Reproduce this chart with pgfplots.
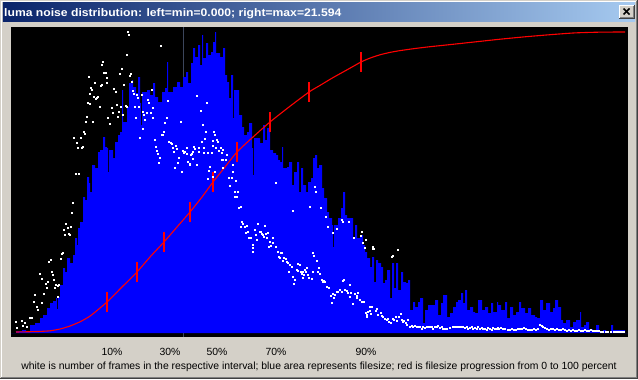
\documentclass[border=0pt]{standalone}
\usepackage{pgfplots}
\pgfplotsset{compat=1.18}
\usepackage{fontspec}
\setmainfont{Liberation Sans}
\definecolor{winbg}{RGB}{212,208,200}
\definecolor{tbA}{RGB}{10,36,106}
\definecolor{tbB}{RGB}{166,202,240}
\definecolor{vline}{RGB}{60,70,92}
\definecolor{bblue}{RGB}{0,0,255}
\definecolor{dkgray}{RGB}{64,64,64}
\definecolor{mdgray}{RGB}{128,128,128}

\begin{document}
\begin{tikzpicture}
\begin{scope}[shift={(-11bp,337bp)},x=1bp,y=-1bp]
  \fill[winbg] (0,0) rectangle (638,379);
  \draw[white,line width=1bp] (1.5,377) -- (1.5,1.5) -- (636,1.5);
  \draw[dkgray,line width=1bp] (0,378.5) -- (637.5,378.5) -- (637.5,0);
  \draw[mdgray,line width=1bp] (1,377.5) -- (636.5,377.5) -- (636.5,1);
  \shade[left color=tbA, right color=tbB] (3,3) rectangle (635,21);
  \node[anchor=base west, text=white, inner sep=0pt] at (4,16)
    {\scalebox{1.11}[1.0]{\fontsize{11}{13}\selectfont\bfseries luma noise distribution: left=min=0.000; right=max=21.594}};
  % close button
  \fill[winbg] (619,5) rectangle (635,19);
  \draw[white,line width=1bp] (619.5,18.5) -- (619.5,5.5) -- (634.5,5.5);
  \draw[dkgray,line width=1bp] (619,18.5) -- (634.5,18.5) -- (634.5,5);
  \draw[mdgray,line width=1bp] (620,17.5) -- (633.5,17.5) -- (633.5,6);
  \draw[black,line width=1.6bp] (623.5,8.5) -- (629.5,14.5);
  \draw[black,line width=1.6bp] (629.5,8.5) -- (623.5,14.5);
  % plot area
  \fill[black] (11,27) rectangle (628,337);
  % percent labels
  \foreach \xx/\tt in {112/10, 170/30, 217/50, 276/70, 366/90}{
    \node[anchor=base, inner sep=0pt, font=\fontsize{10.45}{12}\selectfont] at (\xx,355) {\tt\%};
  }
  \node[anchor=base, inner sep=0pt, font=\fontsize{10.45}{12}\selectfont] at (319,369)
    {white is number of frames in the respective interval; blue area represents filesize; red is filesize progression from 0 to 100 percent};
\end{scope}

\begin{axis}[at={(0,0)}, anchor=south west, scale only axis,
  width=617bp, height=310bp, xmin=11, xmax=628, ymin=-4, ymax=306,
  hide axis, clip=true]
\addplot[vline, line width=1bp] coordinates {(183.5,-4) (183.5,306)};
\addplot[const plot, fill=bblue, draw=none] coordinates {
(11,0) (16,2) (22,3) (26,2) (30,8) (35,10) (40,15) (43,18) (47,25) (50,30)
(53,32) (56,35) (57,24) (58,36) (60,48) (63,65) (65,61) (67,75) (70,70) (73,78)
(75,95) (77,88) (78,105) (80,111) (83,136) (85,133) (87,156) (89,150) (90,141) (92,168)
(95,165) (98,181) (100,183) (103,196) (105,186) (107,185) (108,161) (109,183) (113,175) (115,191)
(118,198) (120,201) (122,243) (123,211) (124,211) (127,226) (129,250) (132,253) (133,246) (136,240)
(138,256) (140,230) (141,208) (142,241) (147,243) (150,238) (153,250) (155,236) (158,231) (162,241)
(165,245) (167,271) (168,241) (170,241) (173,246) (177,251) (180,246) (183,256) (186,261) (188,250)
(191,270) (193,285) (195,276) (198,288) (200,268) (202,298) (203,275) (206,290) (208,278) (211,281)
(213,291) (215,301) (216,280) (220,276) (223,285) (225,258) (227,251) (229,235) (231,258) (233,215)
(234,243) (237,243) (239,218) (242,206) (244,198) (247,201) (249,210) (252,185) (253,158) (254,195)
(257,195) (260,190) (263,208) (265,193) (267,205) (270,183) (273,180) (276,178) (278,173) (280,171)
(282,186) (283,165) (287,166) (289,171) (292,148) (294,161) (297,171) (299,141) (301,165) (303,148)
(306,141) (308,151) (311,155) (313,175) (315,178) (317,165) (319,168) (322,145) (324,135) (327,121)
(329,115) (332,108) (333,86) (334,108) (338,115) (341,125) (343,141) (345,118) (347,115) (350,115)
(353,95) (355,108) (357,95) (360,98) (363,88) (365,81) (367,75) (370,66) (372,76) (374,51)
(376,73) (378,70) (381,66) (383,50) (385,53) (387,63) (390,35) (392,70) (394,45) (396,70)
(398,43) (401,61) (403,51) (406,50) (408,53) (410,23) (413,31) (415,26) (418,31) (420,35)
(423,10) (425,23) (428,28) (432,28) (435,33) (438,18) (441,30) (443,38) (447,16) (450,20)
(453,26) (456,31) (458,33) (461,40) (463,30) (465,43) (467,23) (470,26) (473,21) (475,20)
(478,33) (482,23) (485,26) (488,20) (491,30) (493,21) (497,31) (498,28) (501,23) (505,31)
(507,15) (510,26) (513,18) (516,21) (519,31) (521,25) (525,20) (528,25) (531,18) (535,16)
(537,15) (540,33) (543,23) (546,30) (550,21) (553,25) (555,33) (558,26) (561,13) (563,10)
(566,13) (570,6) (573,11) (576,13) (580,21) (581,6) (584,8) (586,11) (589,4) (593,3)
(596,8) (599,2) (601,0) (603,3) (606,2) (608,0) (611,8) (613,3) (616,3) (620,3)
(625,0) (628,0)} \closedcycle;
\addplot[white, only marks, mark=square*, mark size=0.6bp, mark options={white, fill=white}] coordinates {
(16,11) (17,5) (22,12) (23,7) (25,10) (27,6) (30,15) (32,15) (34,31) (35,38) (37,26) (38,23)
(40,59) (42,54) (42,30) (44,39) (46,49) (47,45) (48,51) (49,71) (51,73) (52,61) (53,58) (54,53)
(55,45) (56,48) (58,36) (58,47) (59,48) (61,74) (62,79) (63,80) (64,103) (65,98) (66,109) (68,105)
(69,99) (70,98) (71,106) (72,120) (73,130) (74,195) (76,159) (77,190) (78,185) (79,159) (81,195)
(82,185) (83,186) (84,201) (85,199) (86,211) (87,216) (88,230) (89,256) (90,239) (90,229) (91,245)
(92,243) (93,211) (94,236) (95,250) (96,234) (97,235) (98,236) (100,226) (101,247)
(102,268) (103,271) (104,260) (106,260) (107,255) (107,250) (102,248) (108,215) (110,209) (112,225)
(113,220) (114,244) (116,241) (117,228) (118,216) (119,221) (121,226) (120,259) (122,264) (123,218)
(124,248) (126,227) (127,226) (128,301) (129,298) (127,278) (130,257) (131,259) (132,251) (133,242)
(134,239) (135,226) (136,215) (137,238) (138,235) (139,226) (140,195) (142,238) (143,221) (143,204)
(144,218) (145,213) (147,220) (148,233) (149,230) (151,220) (152,243) (153,225) (153,215) (155,193)
(156,186) (157,182) (158,179) (159,170) (160,175) (161,287) (162,198) (163,198) (164,201) (165,210)
(167,215) (168,232) (169,191) (171,190) (172,189) (173,185) (174,181) (175,165) (176,187) (177,184)
(178,170) (179,175) (181,211) (182,161) (183,182) (184,180) (185,181) (187,185) (187,179) (188,171)
(190,168) (191,178) (192,179)
(197,237) (207,230) (201,222) (203,208) (206,201) (205,194) (202,191) (199,185) (194,186) (195,184)
(193,181) (190,169) (193,174) (197,168) (199,181) (204,185) (204,180) (208,180) (212,180) (213,192)
(215,198) (214,201) (213,187) (216,185) (217,193) (218,191) (219,182) (221,185) (222,180) (223,183)
(223,173) (222,173) (226,173) (227,178) (210,166) (209,162) (208,154) (213,156) (215,161) (223,165)
(229,155) (232,155) (233,161) (233,168) (230,147) (236,152) (235,141) (235,136) (237,136) (238,141)
(239,125) (241,126) (242,111) (243,109) (241,106) (245,106) (247,107) (246,100) (248,101) (249,95)
(251,95) (253,88) (253,85) (253,81) (255,103) (256,98) (258,109) (260,101) (261,101) (262,99)
(257,93) (263,98) (264,96) (265,107) (266,99) (267,95) (268,100) (270,91) (271,87) (269,86)
(273,90) (273,95) (276,86) (278,81) (280,75) (281,80) (279,76) (276,150) (282,80)
(283,72) (284,75) (286,74) (287,71) (288,70) (290,68) (292,66) (289,61) (293,56) (295,53)
(294,49) (297,63) (298,69) (300,68) (298,62) (301,61) (302,59) (303,61) (304,58) (305,63)
(306,61) (303,55) (307,65) (308,58) (309,55) (312,54) (313,61) (313,80) (314,77) (317,72)
(318,61) (319,65) (320,59) (322,53) (323,51) (324,52) (325,51) (327,46) (329,45) (331,37)
(333,39) (332,30) (334,35) (335,38) (337,41) (338,41) (340,43) (343,52) (344,53) (342,41)
(345,43) (347,42) (348,40) (350,48) (351,40) (350,36) (353,29) (355,39) (357,35) (357,37)
(358,40) (360,33) (362,31) (364,31) (366,20) (367,18) (368,21) (370,22) (371,19) (370,26) (367,16)
(293,122) (310,126) (316,141) (315,146) (321,125) (326,116) (328,106) (333,100) (337,104) (342,113)
(343,111) (349,111) (354,95) (362,101) (361,97) (363,90) (366,93) (365,85) (373,84) (392,76) (398,83)
(373,86) (374,84) (393,77) (372,26) (371,19) (376,22) (377,24) (378,18) (381,20) (382,17) (383,16)
(385,14) (387,13) (388,14) (389,11) (391,10) (393,14) (394,13) (396,16) (397,12) (399,16) (401,19)
(402,13) (403,11) (404,12) (406,10) (407,8) (408,13) (410,6) (412,7) (413,6) (415,7) (417,6)
(418,6) (420,6) (422,4) (423,6) (425,5) (427,6) (428,6) (430,6) (432,6) (433,4) (435,6) (437,6)
(438,7) (440,5) (442,6) (443,4) (445,4) (447,4) (450,5) (453,6) (455,6) (457,6) (458,6) (460,6)
(462,6) (463,6) (465,5) (467,6) (468,4) (470,5) (472,6) (473,4) (475,5) (477,4) (478,6) (480,4)
(482,5) (483,4) (485,4) (487,3) (488,5) (490,4) (492,3) (493,5) (495,4) (497,4) (498,5)
(499,4) (501,5) (503,4) (505,4) (508,3) (510,3) (512,4) (514,3) (516,3) (518,4) (520,4) (522,4)
(524,5) (526,4) (528,3) (530,3) (532,3) (534,4) (536,3) (538,4) (540,8) (542,7) (543,6) (545,5)
(547,4) (549,3) (551,4) (553,4) (555,3) (557,4) (559,3) (561,3) (563,4) (565,3) (567,2) (569,3)
(571,2) (573,3) (575,2) (577,2) (579,3) (581,2) (583,2) (585,3) (587,2) (589,2) (591,3) (593,2)
(595,2) (597,2) (599,2) (601,1) (603,1) (606,1) (608,1) (611,1) (614,1) (616,1) (618,1) (620,1)
(622,1) (624,1)};
\addplot[red, line width=1.1bp, smooth, tension=0.4] table[x=x, y expr=1+3*\thisrow{p}] {
x p
16 0
30 0.1
40 0.2
50 0.4
60 1.0
70 2.0
80 3.4
90 5.3
100 8.0
107 10
122 15
137 20
150 25
164 30
177 35
190 40
202 45
213 50
225 55
237 60
253 65
270 70
289 75
309 80
320 82.2
333 84.8
346 87.2
361 90
370 91.3
380 92.4
390 93.2
400 93.8
415 94.5
430 95.1
450 95.8
475 96.7
500 97.6
525 98.4
550 99.1
575 99.7
600 99.95
625 100
};
\addplot[red, line width=1.1bp, unbounded coords=jump] coordinates {
(107,21) (107,41) (107,nan) (137,51) (137,71) (137,nan) (164,81) (164,101) (164,nan)
(190,111) (190,131) (190,nan) (213,141) (213,161) (213,nan) (237,171) (237,191) (237,nan)
(270,201) (270,221) (270,nan) (309,231) (309,251) (309,nan) (361,261) (361,281)};
\end{axis}
\pgfresetboundingbox
\path[use as bounding box, shift={(-11bp,337bp)}, x=1bp, y=-1bp] (0,0) rectangle (638,379);
\end{tikzpicture}
\end{document}
